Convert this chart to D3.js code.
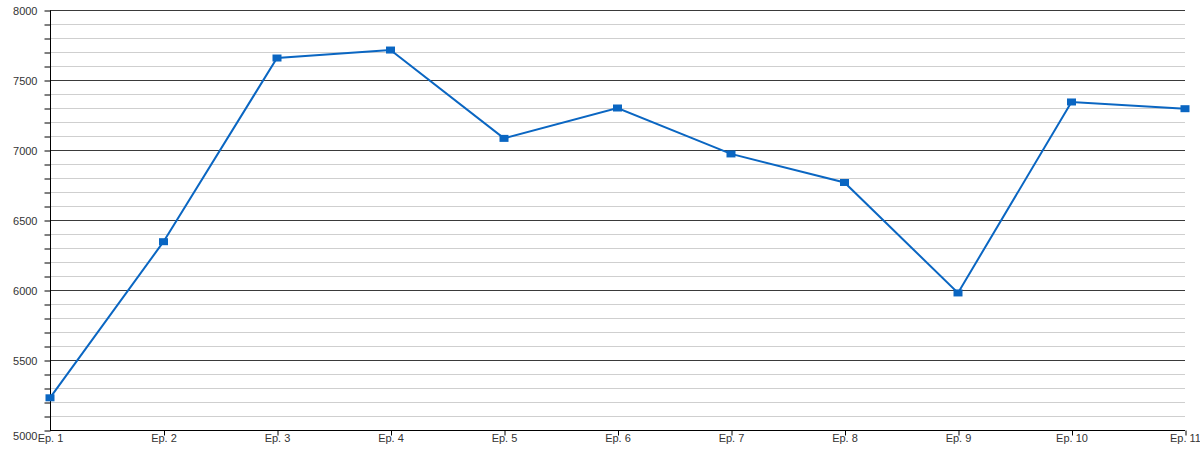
<!DOCTYPE html>
<html><head><meta charset="utf-8">
<script src="https://cdn.jsdelivr.net/npm/d3@7"></script>
<style>body{margin:0;background:#fff}svg{display:block}text{font-family:"Liberation Sans",Arial,sans-serif}</style>
</head><body><svg id="c" width="1200" height="450"></svg>
<script>
const categories = ["Ep. 1","Ep. 2","Ep. 3","Ep. 4","Ep. 5","Ep. 6","Ep. 7","Ep. 8","Ep. 9","Ep. 10","Ep. 11"];
const values = [5230, 6345, 7657, 7714, 7083, 7300, 6972, 6768, 5979, 7343, 7295];
const majorTicks = [5000, 5500, 6000, 6500, 7000, 7500, 8000];

const svg = d3.select("#c");
const L = 50, R = 1185, T = 10, B = 430;
const x = d3.scalePoint().domain(categories).range([L, R]);
const y = d3.scaleLinear().domain([5000, 8000]).range([B, T]);
const minor = d3.range(5000, 8001, 100).filter(v => v % 500 !== 0);
const FONT = "'Liberation Sans',Arial,sans-serif";

svg.append("g").selectAll("line").data(minor).join("line")
  .attr("x1", L).attr("x2", R).attr("y1", d => y(d) + 0.5).attr("y2", d => y(d) + 0.5)
  .attr("stroke", "#cfcfcf").attr("stroke-width", 1);
svg.append("g").selectAll("line").data(majorTicks.filter(v => v !== 5000)).join("line")
  .attr("x1", L).attr("x2", R).attr("y1", d => y(d) + 0.5).attr("y2", d => y(d) + 0.5)
  .attr("stroke", "#3a3a3a").attr("stroke-width", 1);

// Y axis
const ya = svg.append("g").attr("transform", `translate(${L + 0.5},0.5)`)
  .call(d3.axisLeft(y).tickValues(d3.range(5000, 8001, 100)).tickSize(6)
    .tickFormat(d => d % 500 === 0 ? d : ""));
ya.select(".domain").attr("stroke", "#000").attr("d", `M0,${T}V${B}`);
ya.selectAll(".tick line").attr("stroke", "#000");
ya.selectAll(".tick text").attr("font-size", 11).attr("fill", "#333").attr("x", -13).attr("dy", "0.35em")
  .attr("font-family", FONT);
ya.selectAll(".tick").filter(d => d === 5000).select("text").attr("dy", "0.8em");

// X axis
const xa = svg.append("g").attr("transform", `translate(0,${B + 0.5})`)
  .call(d3.axisBottom(x).tickSize(5).tickPadding(2));
xa.select(".domain").attr("stroke", "#000").attr("d", `M${L},0H${R}`);
xa.selectAll(".tick line").attr("stroke", "#000").attr("transform", "translate(0.5,0)");
xa.selectAll(".tick").filter((d,i) => i === 0).select("line").remove();
xa.selectAll(".tick text").attr("font-size", 11).attr("fill", "#333").attr("dy", "0.45em")
  .attr("font-family", FONT);

// line
const color = "#0a66c2";
svg.append("path").datum(values)
  .attr("fill", "none").attr("stroke", color).attr("stroke-width", 2)
  .attr("d", d3.line().x((d, i) => x(categories[i])).y(d => y(d)));
svg.append("g").selectAll("rect").data(values).join("rect")
  .attr("x", (d, i) => x(categories[i]) - 4.5).attr("y", d => y(d) - 3.5)
  .attr("width", 9).attr("height", 7).attr("fill", color);
</script></body></html>
